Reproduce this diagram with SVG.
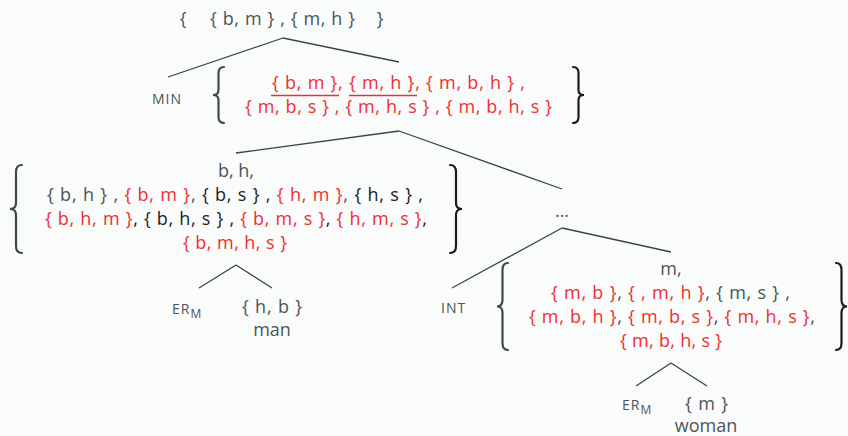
<svg xmlns="http://www.w3.org/2000/svg" width="848" height="436" viewBox="0 0 848 436">
<style>
text{font-family:"Open Sans","Noto Sans",sans-serif;font-size:18px;fill:#4b5559}
.c{text-anchor:middle}
.r{fill:#ee3030}
.k{fill:#222}
.sm{font-size:14px;letter-spacing:1px}
.e{stroke:#3a4447;stroke-width:1.3;fill:none}
.br{stroke:#3f494c;stroke-width:2.2;fill:none;stroke-linecap:round}
.bk{stroke:#1c1c1c}
.ul{stroke:#ee3030;stroke-width:1.6}
</style>
<rect width="848" height="436" fill="#fafbfb"/>
<g id="connectors">
<path class="e" d="M283 38 L168 77 M283 38 L399 62"/>
<path class="e" d="M399 131 L236 153 M399 131 L562 189"/>
<path class="e" d="M236 265 L199 288 M236 265 L272 288"/>
<path class="e" d="M562 228 L452 288 M562 228 L671 252"/>
<path class="e" d="M671 363 L636 386 M671 363 L707 386"/>
</g>
<g id="root">
<text x="183" y="25" class="c" font-size="20">{</text>
<text x="210" y="25" textLength="145" lengthAdjust="spacing">{ b, m } , { m, h }</text>
<text x="380" y="25" class="c" font-size="20">}</text>
</g>
<g id="min-label"><text x="152" y="104" class="sm">MIN</text></g>
<g id="min-node">
<path class="br" d="M224 67 Q218.5 67 218.5 73 L218.5 90 Q218.5 95 213 95 Q218.5 95 218.5 100 L218.5 117 Q218.5 123 224 123"/>
<text x="272" y="89" class="r" textLength="253" lengthAdjust="spacing">{ b, m }, { m, h }, { m, b, h } ,</text>
<line class="ul" x1="271" y1="95.5" x2="339" y2="95.5"/>
<line class="ul" x1="349" y1="95.5" x2="417" y2="95.5"/>
<text x="245" y="113" class="r" textLength="307" lengthAdjust="spacing">{ m, b, s } , { m, h, s } , { m, b, h, s }</text>
<path class="br bk" d="M573 67 Q578.5 67 578.5 73 L578.5 90 Q578.5 95 584 95 Q578.5 95 578.5 100 L578.5 117 Q578.5 123 573 123"/>
</g>
<g id="left-node">
<path class="br" d="M22 165 Q16 165 16 172 L16 203 Q16 209 10 209 Q16 209 16 215 L16 246 Q16 253 22 253"/>
<text x="236" y="177" class="c">b, h,</text>
<text x="47" y="201" textLength="376" lengthAdjust="spacing">{ b, h } , <tspan class="r">{ b, m }</tspan>, <tspan class="k">{ b, s } ,</tspan> <tspan class="r">{ h, m }</tspan>, <tspan class="k">{ h, s } ,</tspan></text>
<text x="45" y="225" textLength="382" lengthAdjust="spacing"><tspan class="r">{ b, h, m }</tspan><tspan class="k">, { b, h, s } ,</tspan> <tspan class="r">{ b, m, s }</tspan><tspan class="k">,</tspan> <tspan class="r">{ h, m, s }</tspan><tspan class="k">,</tspan></text>
<text x="183" y="249" class="r" textLength="104" lengthAdjust="spacing">{ b, m, h, s }</text>
<path class="br bk" d="M450 165 Q456 165 456 172 L456 203 Q456 209 462 209 Q456 209 456 215 L456 246 Q456 253 450 253"/>
</g>
<g id="er-left"><text x="172" y="314" class="sm">ER<tspan dy="4" font-size="12">M</tspan></text></g>
<g id="hb-left">
<text x="242" y="313" textLength="60" lengthAdjust="spacing">{ h, b }</text>
<text x="272" y="336" class="c">man</text>
</g>
<g id="dots"><text x="562" y="217" class="c">...</text></g>
<g id="int-label"><text x="441" y="313" class="sm">INT</text></g>
<g id="right-node">
<path class="br" d="M508 263 Q502.5 263 502.5 270 L502.5 300 Q502.5 306.5 497 306.5 Q502.5 306.5 502.5 313 L502.5 343 Q502.5 350 508 350"/>
<text x="671" y="275" class="c">m,</text>
<text x="551" y="299" textLength="239" lengthAdjust="spacing"><tspan class="r">{ m, b }</tspan>, <tspan class="r">{ , m, h }</tspan>, { m, s } ,</text>
<text x="529" y="323" textLength="286" lengthAdjust="spacing"><tspan class="r">{ m, b, h }</tspan>, <tspan class="r">{ m, b, s }</tspan>, <tspan class="r">{ m, h, s }</tspan>,</text>
<text x="620" y="347" class="r" textLength="102" lengthAdjust="spacing">{ m, b, h, s }</text>
<path class="br bk" d="M836 263 Q841.5 263 841.5 270 L841.5 300 Q841.5 306.5 847 306.5 Q841.5 306.5 841.5 313 L841.5 343 Q841.5 350 836 350"/>
</g>
<g id="er-right"><text x="622" y="410" class="sm">ER<tspan dy="4" font-size="12">M</tspan></text></g>
<g id="m-right">
<text x="685" y="410" textLength="43" lengthAdjust="spacing">{ m }</text>
<text x="706" y="432" class="c">woman</text>
</g>
</svg>
